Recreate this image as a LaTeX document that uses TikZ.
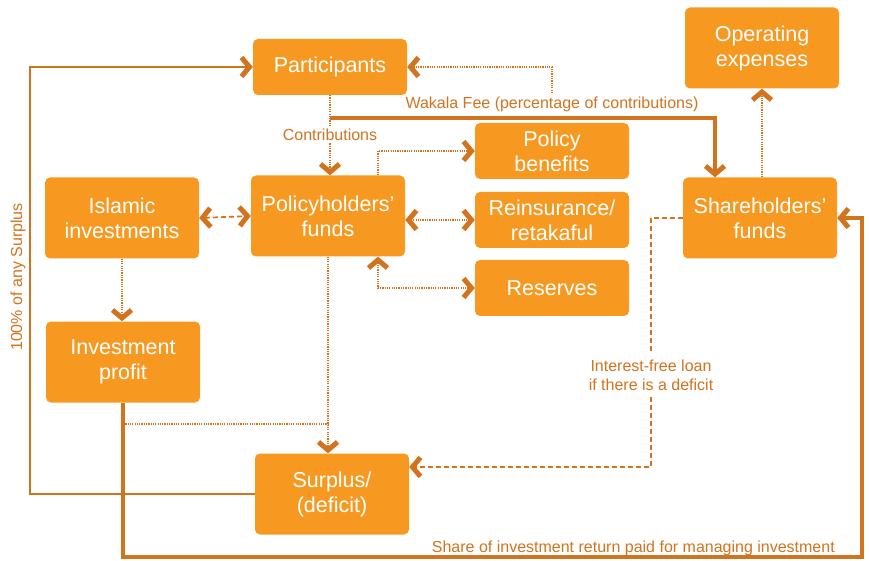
\documentclass[tikz,border=0pt]{standalone}
\usepackage{fontspec}
\setmainfont{Liberation Sans}
\usepackage{tikz}
\usetikzlibrary{arrows.meta}

\definecolor{boxorange}{RGB}{247,153,33}
\definecolor{lineorange}{RGB}{210,115,30}

\tikzset{
  box/.style={fill=boxorange, text=white, rounded corners=5pt, minimum width=154pt,
    minimum height=56pt, inner sep=0pt, align=center, font=\fontsize{21.5}{25}\selectfont},
  tallbox/.style={box, minimum height=81pt},
  lbl/.style={text=lineorange, align=center, font=\fontsize{16}{19}\selectfont},
  dotline/.style={draw=lineorange, line width=1.7pt, dash pattern=on 1.2pt off 1.1pt},
  dashline/.style={draw=lineorange, line width=1.7pt, dash pattern=on 5pt off 3pt},
  thinline/.style={draw=lineorange, line width=2pt},
  thickline/.style={draw=lineorange, line width=4pt},
}

\begin{document}
\begin{tikzpicture}[x=1pt, y=-1pt, >={Straight Barb[length=8pt,width=19pt,line width=5pt]}]
    \useasboundingbox (0,0) rectangle (870,561);

    % boxes
    \node [box] (part) at (330,67) {Participants};
    \node [tallbox] (ops) at (762,48) {Operating\\expenses};
    \node [box] (ben) at (552,151) {Policy\\benefits};
    \node [tallbox] (isl) at (122,218) {Islamic\\investments};
    \node [tallbox] (pol) at (328,216) {Policyholders'\\funds};
    \node [box] (reins) at (552,220) {Reinsurance/\\retakaful};
    \node [tallbox] (share) at (760,218) {Shareholders'\\funds};
    \node [box] (res) at (552,288) {Reserves};
    \node [tallbox] (prof) at (123,362) {Investment\\profit};
    \node [tallbox] (surp) at (332,494) {Surplus/\\(deficit)};

    % labels
    \node [lbl, rotate=90] (pct) at (18,277) {100\% of any Surplus};
    \node [lbl] (wakala) at (552,104) {Wakala Fee (percentage of contributions)};
    \node [lbl, inner sep=6pt] (loan) at (651,375) {Interest-free loan\\if there is a deficit};
    \node [lbl, anchor=south east, inner sep=1pt] (sharelbl) at (836,557) {Share of investment return paid for managing investment};

    \coordinate (lft) at (30,0);
    \coordinate (wk) at (330,118);
    \coordinate (pj) at (0,424);
    \coordinate (brc) at (862,557);

    % connectors
    \draw [thinline, ->] (surp.west) -- (surp.west -| lft) |- (part.west);
    \draw [dotline, ->] (part.south) -- (part.south |- pol.north)
        node [lbl, fill=white, midway, inner sep=2pt] (contrib) {Contributions};
    \draw [thickline, ->] (wk) -| ([xshift=-45pt]share.north);
    \draw [dotline, ->] (wakala.north) |- (part.east);
    \draw [dotline, ->] ([xshift=50pt]pol.north) |- (ben.west);
    \draw [dashline, <->] (isl.east) -- (pol.west);
    \draw [dotline, <->] (pol.east |- reins.west) -- (reins.west);
    \draw [dotline, <->] ([xshift=50pt]pol.south) |- (res.west);
    \draw [dotline, ->] (isl.south) -- (isl.south |- prof.north);
    \draw [dotline, ->] (pol.south) -- (pol.south |- surp.north);
    \draw [dotline] (prof.south |- pj) -- (pol.south |- pj);
    \draw [thickline, ->] (prof.south) |- (brc) |- (share.east);
    \draw [dashline] (share.west) -| (loan.north);
    \draw [dashline, ->] (loan.south) |- ([yshift=27pt]surp.east);
    \draw [dotline, ->] (ops.south |- share.north) -- (ops.south);
\end{tikzpicture}
\end{document}
